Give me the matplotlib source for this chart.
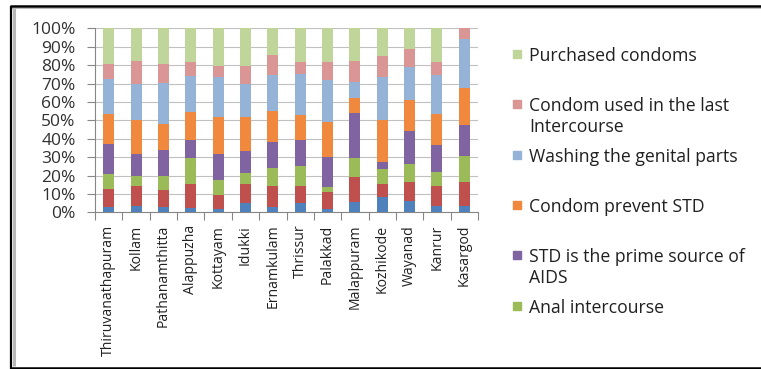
import matplotlib
matplotlib.use("Agg")
import matplotlib.pyplot as plt
import numpy as np
from matplotlib.lines import Line2D
from matplotlib.patches import Rectangle

plt.rcParams["font.family"] = ["Open Sans", "DejaVu Sans"]

districts = ["Thiruvanathapuram", "Kollam", "Pathanamthitta", "Alappuzha",
             "Kottayam", "Idukki", "Ernamkulam", "Thrissur", "Palakkad",
             "Malappuram", "Kozhikode", "Wayanad", "Kanrur", "Kasargod"]

# Stacked shares per district (bottom to top), in percent
seg_base1 = [2.7, 3.3, 2.7, 2.2, 1.8, 4.9, 2.7, 5.1, 1.8, 5.8, 8.3, 6.2, 3.6, 3.6]
seg_base2 = [10.0, 10.8, 9.6, 13.4, 7.6, 10.7, 11.8, 9.4, 9.4, 13.6, 7.3, 10.3, 10.5, 13.1]
anal_intercourse = [8.1, 5.6, 7.6, 13.9, 8.4, 5.8, 9.4, 10.9, 2.6, 10.1, 8.0, 9.8, 8.0, 14.1]
std_prime_source = [16.3, 12.0, 14.2, 10.0, 13.9, 12.1, 14.1, 14.1, 16.1, 24.5, 3.9, 18.1, 14.3, 16.7]
condom_prevent_std = [16.3, 18.7, 14.1, 15.0, 19.9, 18.3, 17.3, 13.2, 19.4, 8.0, 22.9, 16.7, 17.2, 19.9]
washing_genital = [19.1, 19.2, 22.3, 19.4, 21.8, 17.8, 19.5, 22.5, 22.4, 9.0, 23.0, 17.7, 20.9, 26.6]
condom_last = [8.3, 12.8, 10.3, 7.8, 6.3, 10.1, 10.5, 6.7, 10.2, 11.4, 11.6, 10.1, 7.4, 6.0]
purchased_condoms = [19.2, 17.6, 19.2, 18.3, 20.3, 20.3, 14.7, 18.1, 18.1, 17.6, 15.0, 11.1, 18.1, 0.0]

series = [seg_base1, seg_base2, anal_intercourse, std_prime_source,
          condom_prevent_std, washing_genital, condom_last, purchased_condoms]
labels = [None, None, "Anal intercourse", "STD is the prime source of\nAIDS",
          "Condom prevent STD", "Washing the genital parts",
          "Condom used in the last\nIntercourse", "Purchased condoms"]
colors = ["#4F81BD", "#C0504D", "#9BBB59", "#8064A2", "#F0883E",
          "#95B3D7", "#D99694", "#BFD59A"]

W, H = 761, 369
fig = plt.figure(figsize=(W / 100, H / 100), dpi=100)
ax = fig.add_axes([95 / W, 1 - 212.3 / H, (478 - 95) / W, (212.3 - 28.3) / H])

data = np.array(series, dtype=float)
shares = data / data.sum(axis=0) * 100
x = np.arange(len(districts))
bottom = np.zeros(len(districts))
for vals, col in zip(shares, colors):
    ax.bar(x, vals, bottom=bottom, width=0.4, color=col, zorder=3)
    bottom += vals

ax.set_xlim(-0.5, len(districts) - 0.5)
ax.set_ylim(0, 100)
ax.set_yticks(np.arange(0, 101, 10))
ax.set_yticklabels([f"{v}%" for v in range(0, 101, 10)], fontsize=12.5, color="#303030")
ax.yaxis.grid(True, color="#c0c0c0", linewidth=0.8, zorder=0)
ax.set_axisbelow(True)

ax.set_xticks(x)
ax.set_xticklabels(districts, rotation=90, fontsize=10.1, color="#202020")
ax.tick_params(axis="x", which="major", length=0, pad=9)
ax.set_xticks(np.arange(-0.5, len(districts), 1.0), minor=True)
ax.tick_params(axis="x", which="minor", length=6, color="#868686", width=0.8)
ax.tick_params(axis="y", length=6, color="#868686", width=0.8, pad=8)

for side in ("top", "right"):
    ax.spines[side].set_visible(False)
for side in ("left", "bottom"):
    ax.spines[side].set_color("#868686")
    ax.spines[side].set_linewidth(0.8)

# Legend, top entry first
legend_rows = [(7, 52.7), (6, 102.7), (5, 153.5), (4, 204), (3, 254), (2, 304.5)]
for idx, ypx in legend_rows:
    fig.add_artist(Rectangle((513 / W, 1 - (ypx + 5) / H), 8 / W, 8 / H,
                             transform=fig.transFigure, color=colors[idx]))
    fig.text(529 / W, 1 - (ypx - 5.5) / H, labels[idx], fontsize=12.7,
             color="#202020", va="top", ha="left", linespacing=1.2)

# Frame around the figure
def fline(x0, y0, x1, y1, lw, col):
    fig.add_artist(Line2D([x0 / W, x1 / W], [1 - y0 / H, 1 - y1 / H],
                          transform=fig.transFigure, color=col, linewidth=lw,
                          solid_capstyle="butt"))

fline(10, 6.3, W, 6.3, 1.8, "black")
fline(10, 8.3, W, 8.3, 0.6, "#b0b0b0")
fline(11, 5.5, 11, 368.5, 1.6, "black")
fline(14, 8, 14, 366, 2.2, "#b8b8b8")
fline(10, 367.5, W, 367.5, 1.8, "black")

fig.savefig("out.png", dpi=100)
